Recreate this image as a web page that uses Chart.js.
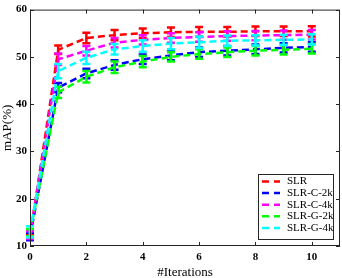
<!DOCTYPE html>
<html>
<head>
<meta charset="utf-8">
<script src="https://cdn.jsdelivr.net/npm/chart.js@4/dist/chart.umd.min.js"></script>
<style>
  body { margin: 0; background: #fff; }
  canvas { display: block; }
</style>
</head>
<body>
<canvas id="chart" width="342" height="278"></canvas>
<script>
// Datos del gráfico
const iterations = [0, 1, 2, 3, 4, 5, 6, 7, 8, 9, 10];
const xTicks = [0, 2, 4, 6, 8, 10];
const yTicks = [10, 20, 30, 40, 50, 60];

const seriesNames = ["SLR", "SLR-C-2k", "SLR-C-4k", "SLR-G-2k", "SLR-G-4k"];
const seriesColors = ["#ff0000", "#0000ff", "#ff00ff", "#00ff00", "#00ffff"];

const slr = [12.0, 51.5, 54.0, 54.6, 55.0, 55.2, 55.3, 55.3, 55.4, 55.4, 55.4];
const slrC2k = [12.0, 43.5, 46.5, 48.3, 49.5, 50.3, 51.0, 51.3, 51.6, 51.9, 52.1];
const slrC4k = [12.3, 49.5, 51.3, 53.0, 53.6, 54.0, 54.2, 54.4, 54.5, 54.6, 54.7];
const slrG2k = [12.8, 42.5, 45.8, 47.8, 49.0, 50.0, 50.6, 51.0, 51.3, 51.5, 51.7];
const slrG4k = [13.0, 47.0, 49.8, 51.6, 52.3, 52.8, 53.1, 53.4, 53.5, 53.6, 53.7];

// Errores (+/-)
const errSlr = [0.6, 0.9, 1.1, 1.1, 1.0, 1.0, 1.0, 1.0, 1.0, 1.0, 1.1];
const errC2k = [0.8, 1.0, 1.0, 1.0, 1.0, 1.0, 1.0, 1.0, 1.0, 1.0, 1.0];
const errC4k = [0.8, 1.2, 1.0, 1.0, 1.0, 1.0, 1.0, 1.0, 1.0, 1.0, 1.0];
const errG2k = [0.8, 1.2, 1.2, 1.2, 1.2, 1.0, 1.0, 1.0, 1.0, 1.0, 1.0];
const errG4k = [1.2, 1.5, 1.3, 1.1, 1.2, 1.2, 1.2, 1.1, 1.1, 1.1, 1.1];

const seriesValues = [slr, slrC2k, slrC4k, slrG2k, slrG4k];
const seriesErrors = [errSlr, errC2k, errC4k, errG2k, errG4k];

const serif = "'Liberation Serif', 'DejaVu Serif', serif";

// Barras de error por serie
const errorBars = {
  id: "errorBars",
  afterDatasetDraw(chart, args) {
    const i = args.index;
    const { ctx, scales: { x, y } } = chart;
    const errs = seriesErrors[i];
    ctx.save();
    ctx.strokeStyle = seriesColors[i];
    ctx.lineWidth = 2.5;
    iterations.forEach((it, k) => {
      const px = x.getPixelForValue(it);
      const top = y.getPixelForValue(seriesValues[i][k] + errs[k]);
      const bot = y.getPixelForValue(seriesValues[i][k] - errs[k]);
      ctx.beginPath();
      ctx.moveTo(px, top); ctx.lineTo(px, bot);
      ctx.moveTo(px - 4, top); ctx.lineTo(px + 4, top);
      ctx.moveTo(px - 4, bot); ctx.lineTo(px + 4, bot);
      ctx.stroke();
    });
    ctx.restore();
  }
};

// Marco y marcas hacia adentro + leyenda
const frameAndLegend = {
  id: "frameAndLegend",
  afterDraw(chart) {
    const { ctx, chartArea: a, scales: { x, y } } = chart;
    ctx.save();
    ctx.strokeStyle = "#262626";
    ctx.lineWidth = 1;
    ctx.strokeRect(a.left + 0.5, a.top + 0.5, a.right - a.left - 1, a.bottom - a.top - 1);
    ctx.beginPath();
    xTicks.forEach((v) => {
      const px = Math.round(x.getPixelForValue(v)) + 0.5;
      ctx.moveTo(px, a.bottom); ctx.lineTo(px, a.bottom - 4);
      ctx.moveTo(px, a.top); ctx.lineTo(px, a.top + 4);
    });
    yTicks.forEach((v) => {
      const py = Math.round(y.getPixelForValue(v)) + 0.5;
      ctx.moveTo(a.left, py); ctx.lineTo(a.left + 4, py);
      ctx.moveTo(a.right, py); ctx.lineTo(a.right - 4, py);
    });
    ctx.stroke();

    // Leyenda
    const w = 75, h = 65;
    const lx = a.right - 7 - w, ly = a.bottom - 7 - h;
    ctx.fillStyle = "#fff";
    ctx.fillRect(lx, ly, w, h);
    ctx.strokeStyle = "#262626";
    ctx.strokeRect(lx + 0.5, ly + 0.5, w, h);
    ctx.font = "11px " + serif;
    ctx.textBaseline = "middle";
    seriesNames.forEach((name, i) => {
      const ry = ly + 7.5 + i * 11.6;
      ctx.strokeStyle = seriesColors[i];
      ctx.lineWidth = 2.5;
      ctx.beginPath();
      ctx.moveTo(lx + 4, ry); ctx.lineTo(lx + 11, ry);
      ctx.moveTo(lx + 16, ry); ctx.lineTo(lx + 22, ry);
      ctx.stroke();
      ctx.fillStyle = "#000";
      ctx.fillText(name, lx + 29, ry);
    });
    ctx.restore();
  }
};

const datasets = seriesNames.map((name, i) => ({
  label: name,
  data: iterations.map((it, k) => ({ x: it, y: seriesValues[i][k] })),
  borderColor: seriesColors[i],
  borderWidth: 2.5,
  borderDash: [7, 4],
  pointRadius: 0,
  tension: 0,
  fill: false,
  order: seriesNames.length - i
}));

new Chart(document.getElementById("chart"), {
  type: "line",
  data: { datasets },
  options: {
    responsive: false,
    animation: false,
    layout: { padding: { top: 4, right: 2, left: 0, bottom: 0 } },
    plugins: { legend: { display: false }, tooltip: { enabled: false } },
    scales: {
      x: {
        type: "linear",
        min: 0,
        max: 11,
        afterBuildTicks: (s) => { s.ticks = xTicks.map((v) => ({ value: v })); },
        afterFit: (s) => { s.height = 32; },
        grid: { display: false, drawTicks: false },
        border: { display: false },
        ticks: { color: "#000", padding: 5, font: { family: serif, size: 11, weight: "bold" } },
        title: { display: true, text: "#Iterations", color: "#000", padding: { top: 0, bottom: -1 }, font: { family: serif, size: 13, lineHeight: 1 } }
      },
      y: {
        min: 10,
        max: 60,
        afterBuildTicks: (s) => { s.ticks = yTicks.map((v) => ({ value: v })); },
        afterFit: (s) => { s.width = 30; },
        grid: { display: false, drawTicks: false },
        border: { display: false },
        ticks: { color: "#000", padding: 3, font: { family: serif, size: 11, weight: "bold" } },
        title: { display: true, text: "mAP(%)", color: "#000", padding: 0, font: { family: serif, size: 13 } }
      }
    }
  },
  plugins: [errorBars, frameAndLegend]
});
</script>
</body>
</html>
